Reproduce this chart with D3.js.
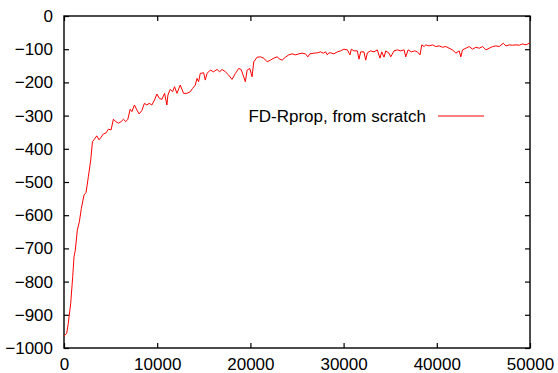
<!DOCTYPE html>
<html>
<head>
<meta charset="utf-8">
<script src="https://cdn.jsdelivr.net/npm/d3@7"></script>
<style>
  body { margin: 0; background: #fff; }
  text { font-family: "Liberation Sans", Arial, Helvetica, sans-serif; }
</style>
</head>
<body>
<svg id="chart"></svg>
<script>
// learning curve: step and reward
const steps = [0, 290, 460, 720, 935, 1075, 1215, 1430, 1645, 1860, 2150, 2365, 2615, 2870,
  3050, 3260, 3520, 3760, 3980, 4230, 4480, 4760, 5050, 5300, 5560, 5840, 6130, 6380, 6630,
  6850, 7100, 7280, 7560, 7820, 8060, 8350, 8630, 8890, 9140, 9430, 9710, 9970, 10220, 10510,
  10790, 11040, 11150, 11400, 11650, 11860, 12120, 12470, 12830, 13190, 13550, 13800, 14090,
  14270, 14440, 14620, 14980, 15160, 15340, 15700, 16050, 16420, 16700, 16960, 17310, 17670,
  18030, 18390, 18740, 19000, 19220, 19460, 19650, 19930, 20080, 20180, 20360, 20720, 21080,
  21430, 21800, 22150, 22510, 22870, 23150, 23410, 23760, 24120, 24480, 24840, 25190, 25560,
  25910, 26160, 26380, 26810, 27170, 27530, 27820, 28070, 28250, 28420, 28600, 28960, 29320,
  29680, 30030, 30400, 30680, 30830, 31110, 31470, 31650, 31830, 32180, 32370, 32550, 32900,
  33260, 33620, 33900, 34090, 34340, 34520, 34870, 35060, 35410, 35780, 36130, 36490, 36670,
  36920, 37280, 37640, 37920, 38200, 38390, 38640, 38820, 39170, 39540, 39890, 40250, 40610,
  40970, 41320, 41690, 42040, 42400, 42580, 42760, 43120, 43470, 43840, 44190, 44550, 44920,
  45270, 45630, 45990, 46340, 46700, 47130, 47420, 47780, 48140, 48500, 48850, 49210, 49570,
  49920, 50000];
const rewards = [-964, -956, -926, -865, -785, -725, -705, -645, -620, -580, -539, -532, -484, -434,
  -379, -371, -361, -373, -365, -355, -353, -341, -343, -311, -318, -323, -318, -311, -318,
  -311, -281, -288, -268, -283, -295, -285, -263, -268, -263, -268, -253, -235, -248, -251,
  -233, -268, -238, -221, -228, -213, -233, -208, -233, -233, -228, -218, -208,
  -188, -198, -173, -171, -193, -173, -163, -168, -161, -168, -161, -168, -178,
  -191, -173, -158, -161, -178, -198, -163, -158, -173, -183, -138, -124, -123,
  -127, -138, -133, -127, -123, -130, -133, -124, -117, -114, -117, -114, -112,
  -114, -123, -114, -112, -111, -108, -112, -108, -117, -111, -111, -114, -108,
  -105, -100, -102, -117, -100, -105, -105, -130, -108, -108, -133, -111, -105,
  -108, -102, -127, -108, -124, -105, -112, -123, -105, -102, -105, -102, -123,
  -102, -108, -105, -108, -117, -87, -92, -87, -90, -87, -92, -90, -94,
  -92, -97, -102, -112, -105, -123, -102, -97, -92, -100, -94, -97, -92,
  -102, -97, -92, -90, -92, -82, -90, -87, -88, -87, -88, -84, -87,
  -82, -80];
const xTicks = [0, 10000, 20000, 30000, 40000, 50000];
const yTicks = [0, -100, -200, -300, -400, -500, -600, -700, -800, -900, -1000];
const seriesName = "FD-Rprop, from scratch";

const W = 558, H = 373;
const margin = {left: 64, right: 28, top: 16, bottom: 25};

const svg = d3.select("#chart")
              .attr("width", W)
              .attr("height", H);

const x = d3.scaleLinear().domain([0, 50000]).range([margin.left, W - margin.right]);
const y = d3.scaleLinear().domain([-1000, 0]).range([H - margin.bottom, margin.top]);

const tick = 5;

// ticks on all four sides, pointing inward
svg.append("g")
   .attr("transform", `translate(0,${y(-1000)})`)
   .call(d3.axisBottom(x).tickValues(xTicks).tickSizeInner(-tick).tickSizeOuter(0).tickPadding(10).tickFormat(d3.format("d")));
svg.append("g")
   .attr("transform", `translate(0,${y(0)})`)
   .call(d3.axisTop(x).tickValues(xTicks).tickSizeInner(-tick).tickSizeOuter(0).tickFormat(""));
svg.append("g")
   .attr("transform", `translate(${x(0)},0)`)
   .call(d3.axisLeft(y).tickValues(yTicks).tickSizeInner(-tick).tickSizeOuter(0).tickPadding(11).tickFormat(d3.format("d")));
svg.append("g")
   .attr("transform", `translate(${x(50000)},0)`)
   .call(d3.axisRight(y).tickValues(yTicks).tickSizeInner(-tick).tickSizeOuter(0).tickFormat(""));

svg.selectAll(".domain").remove();
svg.selectAll(".tick line").attr("stroke", "#000").attr("stroke-width", 1.2);
svg.selectAll(".tick text").attr("font-size", "17px").attr("fill", "#000");

// frame
svg.append("rect")
   .attr("x", x(0))
   .attr("y", y(0))
   .attr("width", x(50000) - x(0))
   .attr("height", y(-1000) - y(0))
   .attr("fill", "none")
   .attr("stroke", "#000")
   .attr("stroke-width", 1.4);

const pts = steps.map((s, i) => [s, rewards[i]]);
svg.append("path")
   .datum(pts)
   .attr("fill", "none")
   .attr("stroke", "#ff0000")
   .attr("stroke-width", 1)
   .attr("d", d3.line().x(d => x(d[0])).y(d => y(d[1])));

// key
svg.append("text")
   .attr("x", 426)
   .attr("y", 122)
   .attr("text-anchor", "end")
   .attr("font-size", "17px")
   .text(seriesName);
svg.append("line")
   .attr("x1", 438).attr("x2", 484)
   .attr("y1", 116).attr("y2", 116)
   .attr("stroke", "#ff0000")
   .attr("stroke-width", 1);
</script>
</body>
</html>
